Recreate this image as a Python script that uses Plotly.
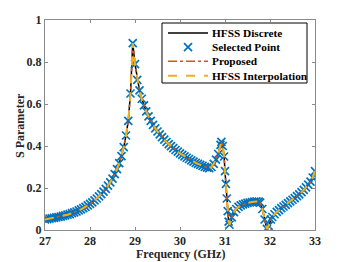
import plotly.graph_objects as go

freq = [27.00, 27.05, 27.10, 27.15, 27.20, 27.25, 27.30, 27.35, 27.40, 27.45,
        27.50, 27.55, 27.60, 27.65, 27.70, 27.75, 27.80, 27.85, 27.90, 27.95,
        28.00, 28.05, 28.10, 28.15, 28.20, 28.25, 28.30, 28.35, 28.40, 28.45,
        28.50, 28.55, 28.60, 28.65, 28.70, 28.75, 28.80, 28.85, 28.90, 28.95,
        29.00, 29.05, 29.10, 29.15, 29.20, 29.25, 29.30, 29.35, 29.40, 29.45,
        29.50, 29.55, 29.60, 29.65, 29.70, 29.75, 29.80, 29.85, 29.90, 29.95,
        30.00, 30.05, 30.10, 30.15, 30.20, 30.25, 30.30, 30.35, 30.40, 30.45,
        30.50, 30.55, 30.60, 30.65, 30.70, 30.75, 30.80, 30.85, 30.90, 30.92,
        30.95, 30.98, 31.00, 31.02, 31.04, 31.06, 31.08, 31.10, 31.15, 31.20,
        31.25, 31.30, 31.35, 31.40, 31.45, 31.50, 31.55, 31.60, 31.65, 31.70,
        31.75, 31.78, 31.83, 31.88, 31.93, 31.97, 32.02, 32.05, 32.10, 32.15,
        32.20, 32.25, 32.30, 32.35, 32.40, 32.45, 32.50, 32.55, 32.60, 32.65,
        32.70, 32.75, 32.80, 32.85, 32.90, 32.95, 33.00]

s_param = [0.050, 0.052, 0.054, 0.056, 0.058, 0.060, 0.062, 0.064, 0.067, 0.070,
           0.073, 0.076, 0.080, 0.084, 0.088, 0.093, 0.098, 0.104, 0.110, 0.117,
           0.124, 0.132, 0.141, 0.150, 0.160, 0.171, 0.183, 0.196, 0.211, 0.227,
           0.245, 0.266, 0.290, 0.318, 0.352, 0.395, 0.450, 0.520, 0.650, 0.890,
           0.790, 0.715, 0.665, 0.625, 0.593, 0.565, 0.541, 0.520, 0.501, 0.484,
           0.469, 0.455, 0.442, 0.430, 0.419, 0.409, 0.399, 0.390, 0.381, 0.373,
           0.365, 0.358, 0.351, 0.344, 0.338, 0.332, 0.326, 0.320, 0.315, 0.310,
           0.305, 0.300, 0.297, 0.295, 0.300, 0.315, 0.335, 0.362, 0.405, 0.420,
           0.400, 0.350, 0.280, 0.220, 0.150, 0.090, 0.040, 0.025, 0.060, 0.085,
           0.100, 0.110, 0.117, 0.122, 0.126, 0.129, 0.131, 0.133, 0.135, 0.136,
           0.135, 0.130, 0.100, 0.050, 0.005, 0.020, 0.050, 0.062, 0.075, 0.086,
           0.095, 0.104, 0.112, 0.120, 0.128, 0.136, 0.144, 0.152, 0.161, 0.170,
           0.180, 0.191, 0.203, 0.216, 0.230, 0.250, 0.280]

x_ticks = [27, 28, 29, 30, 31, 32, 33]
y_ticks = [0, 0.2, 0.4, 0.6, 0.8, 1]
y_tick_text = ["0", "0.2", "0.4", "0.6", "0.8", "1"]

series_names = ["HFSS Discrete", "Selected Point", "Proposed", "HFSS Interpolation"]
x_title = "Frequency (GHz)"
y_title = "S Parameter"

font = "Liberation Serif"
BLACK = "black"
BLUE = "#0072BD"
RED = "#D95319"
YELLOW = "#EDB120"

styles = [
    dict(mode="lines", line=dict(color=BLACK, width=1.5)),
    dict(mode="markers", marker=dict(symbol="x-thin", size=8, color=BLUE,
                                     line=dict(color=BLUE, width=1.7))),
    dict(mode="lines", line=dict(color=RED, width=1.5, dash="dashdot")),
    dict(mode="lines", line=dict(color=YELLOW, width=2, dash="dash")),
]

fig = go.Figure()
for name, st in zip(series_names, styles):
    fig.add_trace(go.Scatter(x=freq, y=s_param, name=name, showlegend=False, **st))

# Manual legend on an overlay axis (0..1 across the plot area)
box_x0, box_x1, box_y0, box_y1 = 0.4333, 0.9704, 0.70, 0.9857
fig.add_trace(go.Scatter(x=[box_x0, box_x1, box_x1, box_x0, box_x0],
                         y=[box_y0, box_y0, box_y1, box_y1, box_y0],
                         mode="lines", fill="toself", fillcolor="white",
                         line=dict(color="black", width=1), showlegend=False,
                         hoverinfo="skip", xaxis="x2", yaxis="y2"))
row_y = [0.938, 0.871, 0.803, 0.735]
samp_x0, samp_x1 = 0.4556, 0.6037
for name, st, ry in zip(series_names, styles, row_y):
    if st["mode"] == "markers":
        fig.add_trace(go.Scatter(x=[(samp_x0 + samp_x1) / 2], y=[ry], showlegend=False,
                                 hoverinfo="skip", xaxis="x2", yaxis="y2", **st))
    else:
        fig.add_trace(go.Scatter(x=[samp_x0, samp_x1], y=[ry, ry], showlegend=False,
                                 hoverinfo="skip", xaxis="x2", yaxis="y2", **st))
    fig.add_annotation(x=0.611, y=ry, xref="paper", yref="paper", text=name,
                       showarrow=False, xanchor="left", yanchor="middle",
                       font=dict(family=font, size=11.3, color="black", weight="bold"))

tick_font = dict(family=font, size=12, color="#262626", weight="bold")
axis_common = dict(showline=True, linecolor="#8a8a8a", linewidth=1, mirror="ticks",
                   ticks="inside", ticklen=3, tickcolor="#8a8a8a", showgrid=False,
                   zeroline=False, tickfont=tick_font)

# axis titles as annotations for exact placement
fig.add_annotation(x=0.5, y=-0.114, xref="paper", yref="paper", text=x_title,
                   showarrow=False, xanchor="center", yanchor="middle", font=tick_font)
fig.add_annotation(x=-0.0926, y=0.5, xref="paper", yref="paper", text=y_title,
                   showarrow=False, xanchor="center", yanchor="middle", textangle=-90,
                   font=tick_font)

fig.update_layout(
    width=346, height=262,
    margin=dict(l=45, r=31, t=20, b=32),
    plot_bgcolor="white", paper_bgcolor="white",
    font=dict(family=font, size=12, color="#262626"),
    xaxis=dict(range=[27, 33], tickvals=x_ticks, **axis_common),
    yaxis=dict(range=[0, 1], tickvals=y_ticks, ticktext=y_tick_text, **axis_common),
    xaxis2=dict(range=[0, 1], overlaying="x", visible=False, fixedrange=True),
    yaxis2=dict(range=[0, 1], overlaying="y", visible=False, fixedrange=True),
    showlegend=False,
    hovermode=False,
)

fig.write_html("out.html",
               config={"displayModeBar": False, "staticPlot": True},
               post_script="document.body.style.margin='0';"
                           "document.body.style.overflow='hidden';")
